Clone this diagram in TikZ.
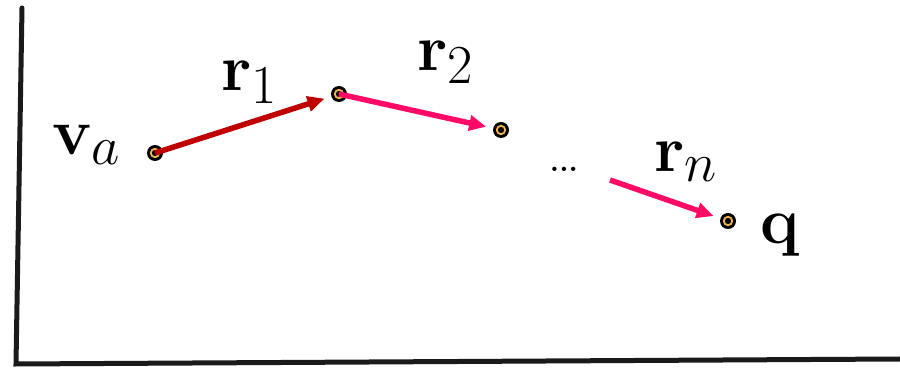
\documentclass[tikz,border=0pt]{standalone}
\usepackage{amsmath}
\usetikzlibrary{arrows.meta}
\definecolor{ringyellow}{HTML}{F2B84B}
\definecolor{darkred}{HTML}{C00000}
\definecolor{hotpink}{HTML}{FF0A66}
\definecolor{axisgray}{HTML}{1A1A1A}

\begin{document}
\begin{tikzpicture}[x=1pt,y=1pt,>={Triangle[length=17pt,width=15pt]},
      dot/.style={circle,fill=black,inner sep=0pt,minimum size=16pt,
        path picture={\draw[ringyellow,line width=1.8pt]
          (path picture bounding box.center) circle (4.2pt);}},
      lbl/.style={font=\Huge,inner sep=0pt,scale=2.65},
      step1/.style={->,darkred,line width=5.5pt,shorten >=7pt},
      stepn/.style={->,hotpink,line width=5.5pt,shorten >=7pt}]
      \useasboundingbox (0,0) rectangle (900,369);
      % axes
      \coordinate (top) at (22,361);
      \coordinate (origin) at (16,5);
      \coordinate (right) at (900,10);
      \draw[axisgray,line width=5pt,line cap=round] (top) -- (origin) -- (right);
      % points
      \node[dot] (va) at (155,216) {};
      \node[dot] (p1) at (339,275) {};
      \node[dot] (p2) at (501,239) {};
      \node[dot] (q) at (728,148) {};
      \coordinate (pn) at (610,189);
      % steps
      \draw[step1] (va.center) -- (p1);
      \draw[stepn] (p1.center) -- (p2);
      \draw[stepn] (pn) -- (q);
      % labels
      \node[lbl] (lva) at (87,224) {$\mathbf{v}_a$};
      \node[lbl] (lr1) at (250,287) {$\mathbf{r}_1$};
      \node[lbl] (lr2) at (446,307) {$\mathbf{r}_2$};
      \node[lbl] (lrn) at (686,207) {$\mathbf{r}_n$};
      \node[lbl] (lq) at (780,134) {$\mathbf{q}$};
      \node[font=\Huge\bfseries,scale=1.2] (dots) at (564,200) {...};
    \end{tikzpicture}
\end{document}
